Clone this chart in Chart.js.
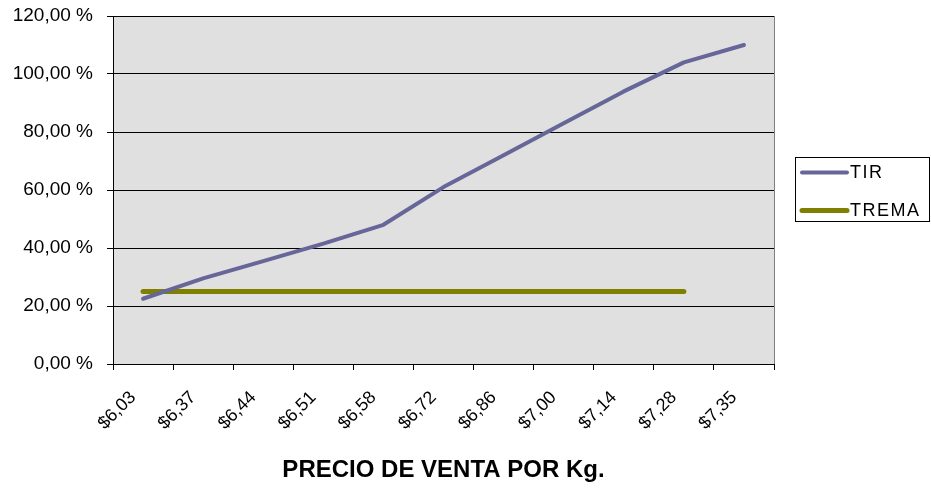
<!DOCTYPE html>
<html>
<head>
<meta charset="utf-8">
<style>
  html, body { margin: 0; padding: 0; background: #ffffff; }
  #wrap { width: 931px; height: 488px; }
</style>
<script src="https://cdn.jsdelivr.net/npm/chart.js@4"></script>
</head>
<body>
<div id="wrap"><canvas id="c" width="931" height="488"></canvas></div>
<script>
const categories = ['$6,03', '$6,37', '$6,44', '$6,51', '$6,58', '$6,72', '$6,86', '$7,00', '$7,14', '$7,28', '$7,35'];
const tirValues = [22.5, 29.5, 35.5, 41.5, 48, 61, 72, 83, 94, 104, 110];
const tremaValues = [25, 25, 25, 25, 25, 25, 25, 25, 25, 25, null];
const yTicks = { min: 0, max: 120, step: 20 };
const xTitle = 'PRECIO DE VENTA POR Kg.';

const FONT = "'Liberation Sans', Arial, sans-serif";

const plotDecor = {
  id: 'plotDecor',
  beforeDraw(chart) {
    const { ctx, chartArea: a } = chart;
    ctx.save();
    ctx.fillStyle = '#e0e0e0';
    ctx.fillRect(a.left, a.top, a.right - a.left, a.bottom - a.top);
    ctx.strokeStyle = '#808080';
    ctx.lineWidth = 1;
    ctx.beginPath();
    ctx.moveTo(a.right + 0.5, a.top);
    ctx.lineTo(a.right + 0.5, a.bottom);
    ctx.stroke();
    ctx.restore();
  },
  afterDraw(chart) {
    const ctx = chart.ctx;
    const a = chart.chartArea;
    const bx = a.right + 21, by = 157, bw = 135, bh = 65;
    ctx.save();
    ctx.fillStyle = '#ffffff';
    ctx.fillRect(bx, by, bw, bh);
    ctx.strokeStyle = '#000000';
    ctx.lineWidth = 1;
    ctx.strokeRect(bx + 0.5, by + 0.5, bw - 1, bh - 1);
    const rows = [172.5, 210.5];
    chart.data.datasets.forEach((ds, i) => {
      const y = rows[i];
      ctx.strokeStyle = ds.borderColor;
      ctx.lineWidth = ds.borderWidth;
      ctx.lineCap = 'round';
      ctx.beginPath();
      ctx.moveTo(bx + 7, y);
      ctx.lineTo(bx + 52, y);
      ctx.stroke();
      ctx.fillStyle = '#000000';
      ctx.font = '18px ' + FONT;
      ctx.textBaseline = 'middle';
      ctx.textAlign = 'left';
      try { ctx.letterSpacing = '1.5px'; } catch (e) {}
      ctx.fillText(ds.label, bx + 55, y + 1);
    });
    ctx.restore();
  }
};

new Chart(document.getElementById('c'), {
  type: 'line',
  data: {
    labels: categories,
    datasets: [
      { label: 'TIR', data: tirValues, borderColor: '#666699', borderWidth: 4, pointRadius: 0, tension: 0, fill: false, borderCapStyle: 'round', borderJoinStyle: 'round' },
      { label: 'TREMA', data: tremaValues, borderColor: '#808000', borderWidth: 5, pointRadius: 0, tension: 0, fill: false, borderCapStyle: 'round', spanGaps: false }
    ]
  },
  options: {
    responsive: false,
    animation: false,
    devicePixelRatio: 1,
    layout: { padding: { top: 16, right: 157, bottom: 0, left: 0 } },
    plugins: { legend: { display: false }, tooltip: { enabled: false } },
    scales: {
      x: {
        offset: true,
        afterFit(s) { s.height = 124; s.paddingLeft = 0; s.paddingRight = 0; },
        grid: { display: true, drawOnChartArea: false, drawTicks: true, tickLength: 6, color: '#000000', offset: true },
        border: { display: true, color: '#000000', width: 1 },
        ticks: {
          autoSkip: false, minRotation: 45, maxRotation: 45,
          padding: 17, labelOffset: -10,
          color: '#000000', font: { family: FONT, size: 18 }
        },
        title: { display: true, text: xTitle, color: '#000000', font: { family: FONT, size: 24, weight: 'bold' }, padding: { top: 0, bottom: 3 } }
      },
      y: {
        min: yTicks.min, max: yTicks.max,
        afterFit(s) { s.width = 113; s.paddingTop = 0; s.paddingBottom = 0; },
        grid: { color: '#000000', lineWidth: 1, tickLength: 6, drawTicks: true },
        border: { display: true, color: '#000000', width: 1 },
        ticks: {
          stepSize: yTicks.step, padding: 14, color: '#000000',
          font: { family: FONT, size: 19 },
          callback: v => v.toFixed(2).replace('.', ',') + ' %'
        }
      }
    }
  },
  plugins: [plotDecor]
});
</script>
</body>
</html>
